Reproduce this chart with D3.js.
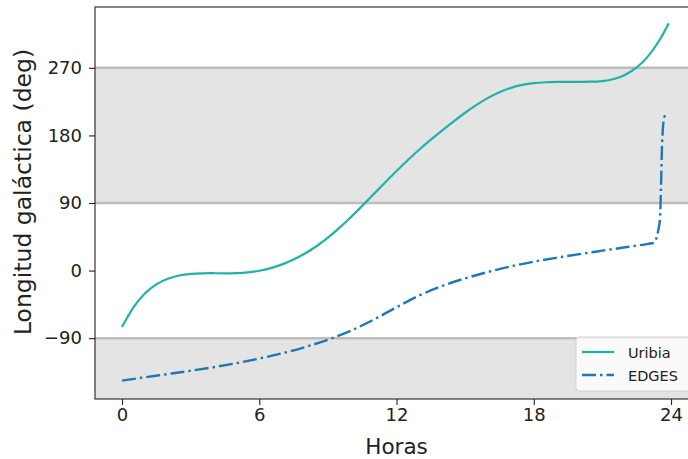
<!DOCTYPE html>
<html>
<head>
<meta charset="utf-8">
<script src="https://cdn.jsdelivr.net/npm/d3@7"></script>
<style>
  html, body { margin: 0; padding: 0; background: #fff; }
  svg { display: block; font-family: "DejaVu Sans", sans-serif; }
</style>
</head>
<body>
<svg id="chart" width="688" height="459"></svg>
<script>
// Galactic longitude seen from each site over a day
const hours = [0, 0.5, 1, 1.5, 2, 2.5, 3, 3.5, 4, 4.5, 5, 5.5, 6, 6.5, 7, 7.5, 8, 8.5, 9, 9.5,
  10, 10.5, 11, 11.5, 12, 12.5, 13, 13.5, 14, 14.5, 15, 15.5, 16, 16.5, 17, 17.5, 18, 18.5,
  19, 19.5, 20, 20.5, 21, 21.5, 22, 22.5, 23, 23.5, 23.9];
const uribia = [-75, -49, -30.5, -18.3, -10.8, -6.5, -4.4, -3.6, -3.5, -3.6, -3.35, -2.35, -0.2,
  3.3, 8.3, 14.8, 22.8, 32.4, 43.8, 56.8, 71, 86.2, 101.8, 117.4, 132.7, 147.3, 161.2, 174.3,
  186.8, 198.8, 210.2, 220.7, 230, 237.6, 243.3, 247.2, 249.6, 250.8, 251.3, 251.4, 251.4,
  251.5, 252.4, 255.1, 260.9, 270.6, 285.6, 307.1, 329.5];

const edgesHours = [0, 1, 2, 3, 4, 5, 6, 7, 8, 9, 10, 11, 12, 13, 14, 15, 16, 17, 18, 19, 20,
  21, 22, 23, 23.25, 23.3, 23.45, 23.52, 23.56, 23.6, 23.65, 23.7, 23.74];
const edges = [-146.5, -142.1, -137.8, -133.4, -128.65, -123.25, -117.1, -110.1, -101.85, -92.1,
  -80.1, -65.35, -48.85, -33.1, -20.35, -10.35, -1.85, 5.65, 11.9, 17.15, 21.95, 26.5, 31, 35.65,
  37, 38.5, 55, 70, 110, 160, 192, 203, 207];

const xTicks = [0, 6, 12, 18, 24];
const yTicks = [-90, 0, 90, 180, 270];
const shadedBands = [[90, 270], [-171, -90]];
const refLines = [270, 90, -90];
const seriesNames = ["Uribia", "EDGES"];

const svg = d3.select("#chart");
const plot = { left: 95, top: 7, right: 693, bottom: 399 };

const x = d3.scaleLinear().domain([-1.18, 24.96]).range([plot.left, plot.right]);
const y = d3.scaleLinear().domain([-171, 351]).range([plot.bottom, plot.top]);

svg.append("defs").append("clipPath").attr("id", "plotClip")
  .append("rect")
  .attr("x", plot.left).attr("y", plot.top)
  .attr("width", plot.right - plot.left).attr("height", plot.bottom - plot.top);

const area = svg.append("g").attr("clip-path", "url(#plotClip)");

// shaded longitude bands
area.selectAll("rect.band").data(shadedBands).join("rect")
  .attr("class", "band")
  .attr("x", plot.left)
  .attr("width", plot.right - plot.left)
  .attr("y", d => y(d[1]))
  .attr("height", d => y(d[0]) - y(d[1]))
  .attr("fill", "#e4e4e4");

area.selectAll("line.ref").data(refLines).join("line")
  .attr("class", "ref")
  .attr("x1", plot.left).attr("x2", plot.right)
  .attr("y1", d => y(d)).attr("y2", d => y(d))
  .attr("stroke", "#bdbdbd").attr("stroke-width", 2.5);

// curves
const uribiaLine = d3.line()
  .x((d, i) => x(hours[i])).y(d => y(d))
  .curve(d3.curveNatural);
area.append("path")
  .datum(uribia)
  .attr("d", uribiaLine)
  .attr("fill", "none")
  .attr("stroke", "#20b2aa")
  .attr("stroke-width", 2.2);

const edgesLine = d3.line()
  .x((d, i) => x(edgesHours[i])).y(d => y(d))
  .curve(d3.curveMonotoneX);
area.append("path")
  .datum(edges)
  .attr("d", edgesLine)
  .attr("fill", "none")
  .attr("stroke", "#1f77b4")
  .attr("stroke-width", 2.4)
  .attr("stroke-dasharray", "14,4,2.5,4");

// axes
const tickFont = 18;
const xAxis = svg.append("g")
  .attr("transform", `translate(0,${plot.bottom})`)
  .call(d3.axisBottom(x).tickValues(xTicks).tickSize(6).tickPadding(3).tickFormat(d3.format("d")));
const yAxis = svg.append("g")
  .attr("transform", `translate(${plot.left},0)`)
  .call(d3.axisLeft(y).tickValues(yTicks).tickSize(6).tickPadding(7)
    .tickFormat(d => d < 0 ? "\u2212" + Math.abs(d) : String(d)));

[xAxis, yAxis].forEach(g => {
  g.select(".domain").remove();
  g.selectAll(".tick line").attr("stroke", "#222").attr("stroke-width", 1.1);
  g.selectAll(".tick text")
    .attr("fill", "#222")
    .style("font-family", "DejaVu Sans, sans-serif")
    .style("font-size", tickFont + "px");
});

// frame
svg.append("rect")
  .attr("x", plot.left).attr("y", plot.top)
  .attr("width", plot.right - plot.left).attr("height", plot.bottom - plot.top)
  .attr("fill", "none").attr("stroke", "#222").attr("stroke-width", 1.1);

// axis titles
svg.append("text")
  .attr("x", (x(0) + x(24)) / 2)
  .attr("y", 454)
  .attr("text-anchor", "middle")
  .attr("fill", "#222")
  .style("font-size", "21.5px")
  .text("Horas");

svg.append("text")
  .attr("transform", "translate(31,192) rotate(-90)")
  .attr("text-anchor", "middle")
  .attr("fill", "#222")
  .style("font-size", "23.5px")
  .text("Longitud galáctica (deg)");

// legend
const legend = svg.append("g").attr("transform", "translate(576,337)");
legend.append("rect")
  .attr("x", 0).attr("y", 0).attr("width", 118).attr("height", 54).attr("rx", 3)
  .attr("fill", "#fff").attr("fill-opacity", 0.8)
  .attr("stroke", "#d0d0d0").attr("stroke-width", 1);

const legendStyles = [
  { color: "#20b2aa", dash: null, width: 2.2 },
  { color: "#1f77b4", dash: "14,4,2.5,4", width: 2.4 }
];
seriesNames.forEach((name, i) => {
  const yy = 15 + i * 23;
  legend.append("line")
    .attr("x1", 6).attr("x2", 38).attr("y1", yy).attr("y2", yy)
    .attr("stroke", legendStyles[i].color)
    .attr("stroke-width", legendStyles[i].width)
    .attr("stroke-dasharray", legendStyles[i].dash);
  legend.append("text")
    .attr("x", 52).attr("y", yy + 5.5)
    .attr("fill", "#222")
    .style("font-size", "14.5px")
    .text(name);
});
</script>
</body>
</html>
